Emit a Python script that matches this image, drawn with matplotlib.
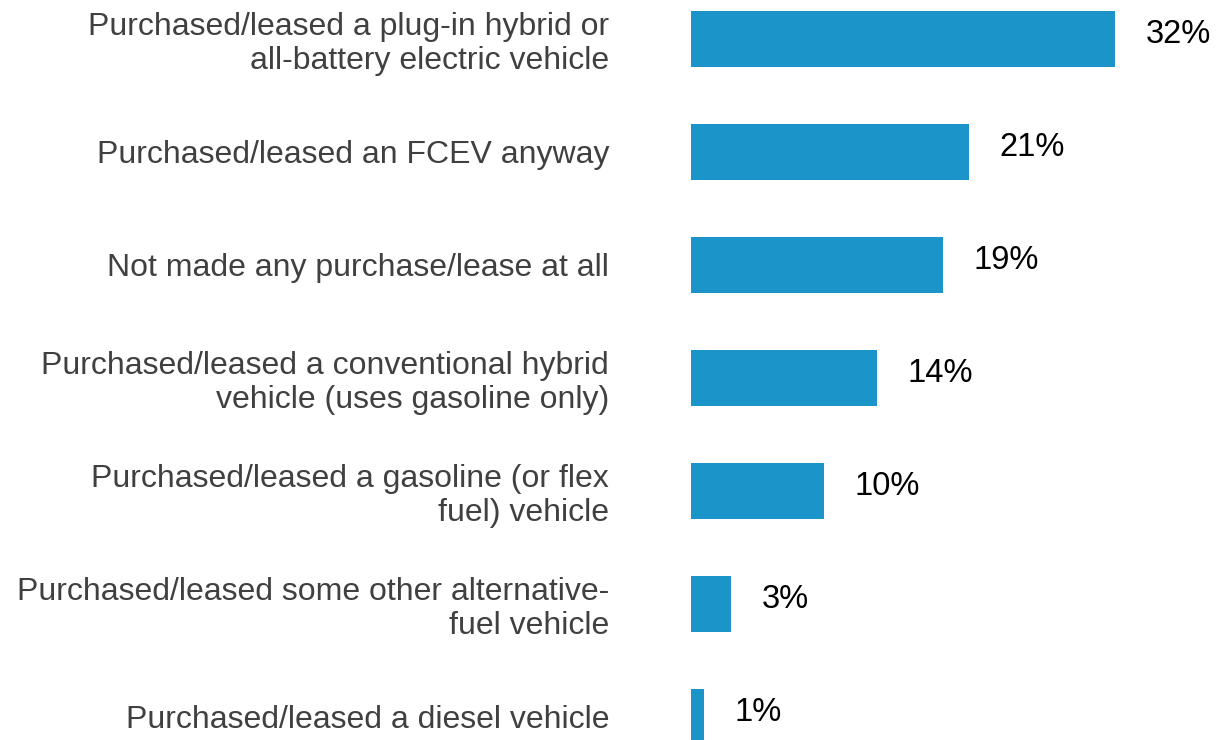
import matplotlib.pyplot as plt
import numpy as np

plt.rcParams['font.family'] = ['Liberation Sans', 'DejaVu Sans']

# Survey answers (top to bottom) and shares in percent
categories = [
    "Purchased/leased a plug-in hybrid or\nall-battery electric vehicle",
    "Purchased/leased an FCEV anyway",
    "Not made any purchase/lease at all",
    "Purchased/leased a conventional hybrid\nvehicle (uses gasoline only)",
    "Purchased/leased a gasoline (or flex\nfuel) vehicle",
    "Purchased/leased some other alternative-\nfuel vehicle",
    "Purchased/leased a diesel vehicle",
]
values = [32, 21, 19, 14, 10, 3, 1]
value_labels = ["32%", "21%", "19%", "14%", "10%", "3%", "1%"]

bar_color = '#1b95c9'

fig = plt.figure(figsize=(12.16, 7.40), dpi=100)
ax = fig.add_axes([691 / 1216, 0.0, 516.75 / 1216, 1.0])

y = np.arange(len(categories))
ax.barh(y, values, height=0.5, color=bar_color)

ax.set_xlim(0, 39)
ax.set_ylim(6.204, -0.345)

ax.set_yticks(y)
ax.set_yticklabels(categories, fontsize=23, color='#404040', linespacing=1.17)
ax.tick_params(axis='y', length=0, pad=59)
ax.set_xticks([])

for side in ['top', 'right', 'bottom', 'left']:
    ax.spines[side].set_visible(False)

for yi, v, lab in zip(y, values, value_labels):
    ax.annotate(lab, xy=(v, yi), xytext=(22, 3), textcoords='offset points',
                ha='left', va='center', fontsize=23.5, color='black',
                annotation_clip=False)

fig.savefig('out.png', dpi=100, facecolor='white')
